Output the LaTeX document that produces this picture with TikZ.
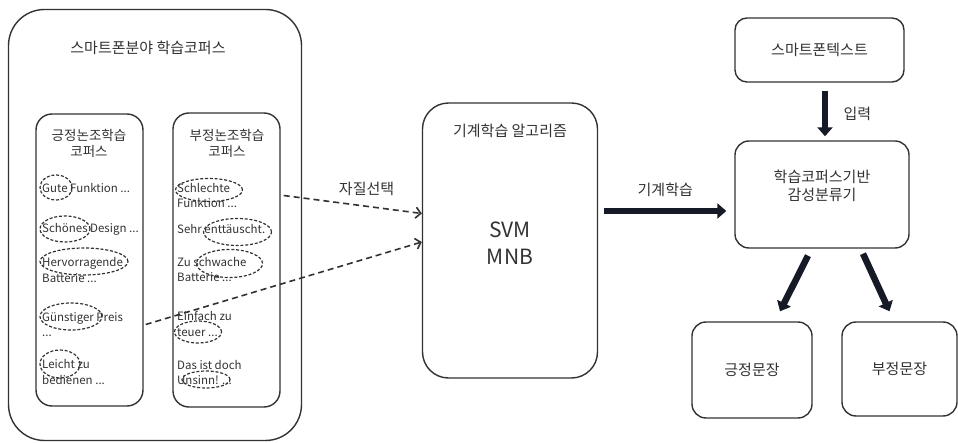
\documentclass[tikz,border=0pt]{standalone}
\usepackage{fontspec}
\setmainfont{Noto Sans CJK KR}
\usetikzlibrary{arrows.meta,shapes.geometric}
\definecolor{inkgray}{RGB}{50,50,50}
\definecolor{arrowink}{RGB}{22,26,38}

\begin{document}
\begin{tikzpicture}[x=1pt,y=-1pt,font=\fontsize{15}{18}\selectfont,text=inkgray,
    box/.style={draw=inkgray,line width=1.4pt,rounded corners=#1,inner sep=0pt},
    itemtext/.style={anchor=west,align=left,inner sep=0pt,font=\fontsize{11.5}{15.5}\selectfont},
    wordring/.style={draw=inkgray,dash pattern=on 3pt off 1.8pt,ellipse,line width=1.2pt,inner sep=0pt},
    featarrow/.style={draw=inkgray,line width=1.6pt,dash pattern=on 6pt off 4pt,-{Straight Barb[length=5pt,width=11pt]}},
    thickarrow/.style={draw=arrowink,line width=6.5pt,-{Triangle[length=9pt,width=15pt]}}]
    \useasboundingbox (0,0) rectangle (958,443);
    % corpus side
    \node[box=36pt,minimum width=293pt,minimum height=431pt] (corpus) at (155,225) {};
    \node (corpustitle) at (148,48) {스마트폰분야 학습코퍼스};
    \node[box=16pt,minimum width=107pt,minimum height=292pt] (posbox) at (89.5,260) {};
    \node[box=16pt,minimum width=107pt,minimum height=294pt] (negbox) at (226.5,260) {};
    \node[align=center,font=\fontsize{13.5}{16}\selectfont] (postitle) at (89,143) {긍정논조학습\\코퍼스};
    \node[align=center,font=\fontsize{13.5}{16}\selectfont] (negtitle) at (227,143) {부정논조학습\\코퍼스};
    % positive items
    \node[itemtext] (pos1) at (42,188) {Gute Funktion ...};
    \node[itemtext] (pos2) at (42,229) {Schönes Design ...};
    \node[itemtext] (pos3) at (42,270) {Hervorragende\\Batterie ...};
    \node[itemtext] (pos4) at (42,324.5) {Günstiger Preis\\...};
    \node[itemtext] (pos5) at (42,372) {Leicht zu\\bedienen ...};
    \node[wordring,minimum width=32pt,minimum height=25pt] (ringp1) at (56,187.5) {};
    \node[wordring,minimum width=50pt,minimum height=26pt] (ringp2) at (65,229) {};
    \node[wordring,minimum width=88pt,minimum height=27pt] (ringp3) at (84,261.5) {};
    \node[wordring,minimum width=62pt,minimum height=27pt] (ringp4) at (71,316.5) {};
    \node[wordring,minimum width=40pt,minimum height=28pt] (ringp5) at (60,364) {};
    % negative items
    \node[itemtext] (neg1) at (177,195.5) {Schlechte\\Funktion ...};
    \node[itemtext] (neg2) at (177,229) {Sehr enttäuscht.};
    \node[itemtext] (neg3) at (177,269.5) {Zu schwache\\Batterie ...};
    \node[itemtext] (neg4) at (177,324) {Einfach zu\\teuer ...};
    \node[itemtext] (neg5) at (177,372.5) {Das ist doch\\Unsinn! ...};
    \node[wordring,minimum width=67pt,minimum height=23pt] (ringn1) at (209,190) {};
    \node[wordring,minimum width=68pt,minimum height=27pt] (ringn2) at (237.5,232) {};
    \node[wordring,minimum width=66pt,minimum height=28pt] (ringn3) at (229.5,263.5) {};
    \node[wordring,minimum width=47pt,minimum height=22pt] (ringn4) at (198,332) {};
    \node[wordring,minimum width=48pt,minimum height=17pt] (ringn5) at (206,379.5) {};
    % algorithm
    \node[box=26pt,minimum width=175pt,minimum height=275pt] (algo) at (510,240.5) {};
    \node (algotitle) at (510,131) {기계학습 알고리즘};
    \node[align=center,font=\fontsize{21}{27}\selectfont] (algoname) at (510,243) {SVM\\MNB};
    \draw[featarrow] ([xshift=3pt]negbox.east |- neg1.center) -- node[above=6pt,pos=0.6] (featlabel) {자질선택} ([yshift=27pt]algo.west);
    \draw[featarrow] ([xshift=2pt]posbox.east |- pos4.center) -- ([yshift=-1.5pt]algo.west);
    % classifier side
    \node[box=12pt,minimum width=169pt,minimum height=64pt] (smtext) at (819.5,50) {스마트폰텍스트};
    \node[box=14pt,minimum width=174pt,minimum height=107pt,align=center,text height=13pt] (clf) at (822,194.5) {학습코퍼스기반\\감성분류기};
    \node[box=14pt,minimum width=120pt,minimum height=96pt] (posout) at (752,370) {긍정문장};
    \node[box=14pt,minimum width=115pt,minimum height=94pt] (negout) at (899.5,369) {부정문장};
    \draw[thickarrow] ([xshift=6pt,yshift=29.5pt]algo.east) -- node[above=8pt] (mllabel) {기계학습} ([xshift=-8pt,yshift=-16.5pt]clf.west);
    \draw[thickarrow] ([xshift=5.5pt,yshift=-8pt]smtext.south) -- node[right=12pt] (inputlabel) {입력} ([xshift=3pt,yshift=4pt]clf.north);
    \draw[thickarrow] ([xshift=-14pt,yshift=-7pt]clf.south) -- ([xshift=28pt,yshift=10pt]posout.north);
    \draw[thickarrow] ([xshift=41pt,yshift=-5pt]clf.south) -- ([xshift=-10pt,yshift=10pt]negout.north);
\end{tikzpicture}
\end{document}
